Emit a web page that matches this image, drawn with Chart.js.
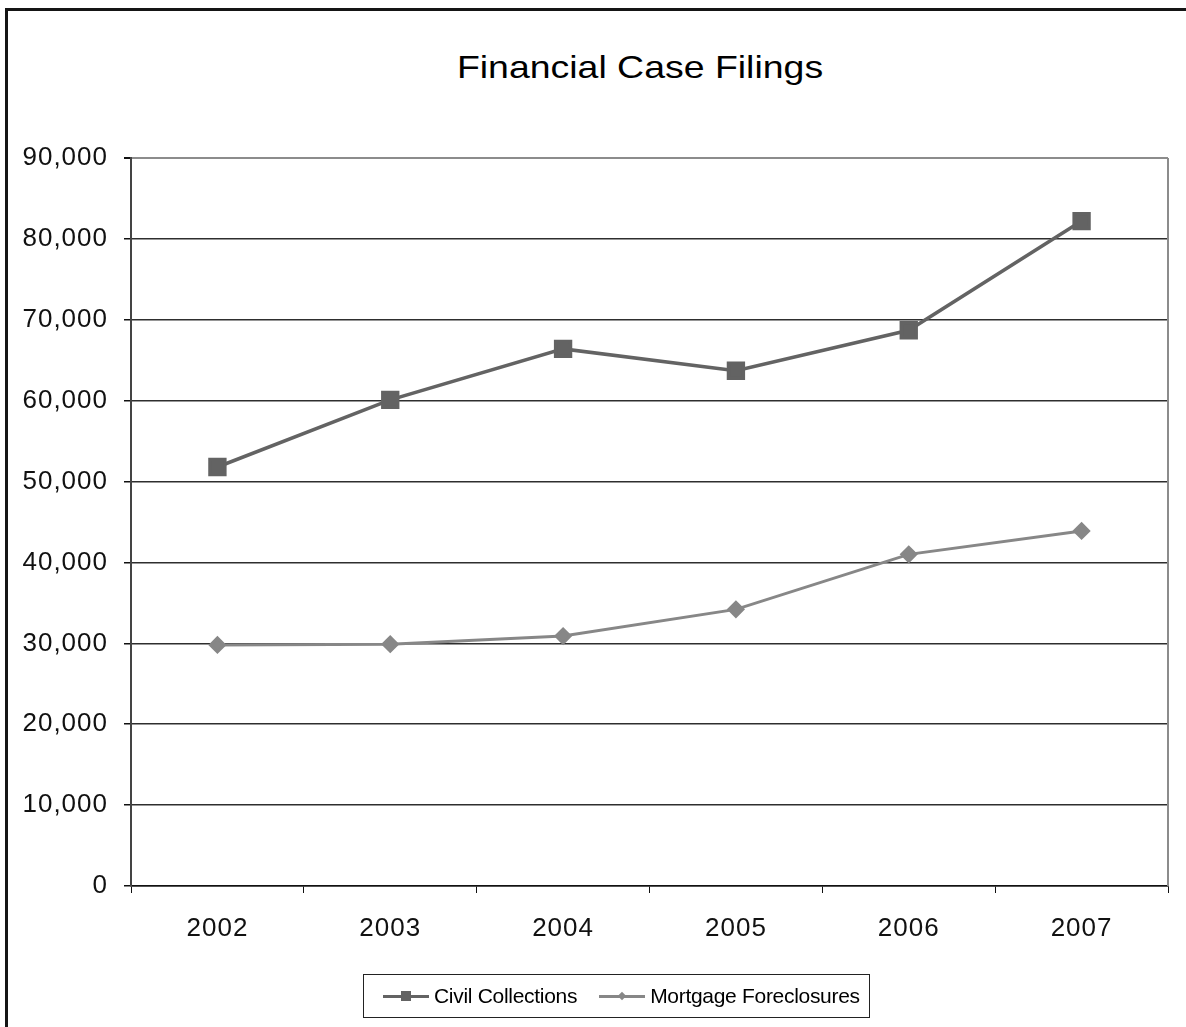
<!DOCTYPE html>
<html>
<head>
<meta charset="utf-8">
<script src="https://cdn.jsdelivr.net/npm/chart.js@4/dist/chart.umd.min.js"></script>
<style>
  html, body { margin: 0; padding: 0; background: #fff; overflow: hidden; }
  body { width: 1186px; height: 1027px; position: relative; font-family: 'Liberation Sans', Arial, sans-serif; }
  #frame { position: absolute; left: 5px; top: 8px; width: 2000px; height: 2000px; border-left: 3px solid #151515; border-top: 3px solid #151515; }
  #chart-wrap { position: absolute; left: 0; top: 0; width: 1186px; height: 1027px; }
  #title { position: absolute; left: 0; top: 51px; width: 1280px; text-align: center; font-size: 32px; line-height: 32px; color: #000; transform: scaleX(1.17); transform-origin: 640px 0; }
  #legend { position: absolute; left: 363px; top: 974px; width: 507px; height: 44px; border: 1px solid #222; display: flex; align-items: center; padding-left: 19px; box-sizing: border-box; font-size: 21px; letter-spacing: -0.3px; color: #000; white-space: nowrap; }
  .item { display: flex; align-items: center; margin-right: 22px; white-space: nowrap; flex: none; }
  .swatch { position: relative; width: 46px; height: 3px; margin-right: 5px; flex: none; }
  .mark { position: absolute; left: 50%; top: 50%; }
</style>
</head>
<body>
<div id="frame"></div>
<div id="title">Financial Case Filings</div>
<div id="chart-wrap"><canvas id="myChart"></canvas></div>
<div id="legend"></div>
<script>
// data
const years = ['2002', '2003', '2004', '2005', '2006', '2007'];
const civilCollections = [51800, 60100, 66400, 63700, 68700, 82200];
const mortgageForeclosures = [29800, 29900, 30900, 34200, 41000, 43900];
const yMin = 0;
const yMax = 90000;
const yStep = 10000;

const seriesNames = ['Civil Collections', 'Mortgage Foreclosures'];
const seriesColors = ['#636363', '#878787'];

// right border of the plot area + slightly wider glyphs like the original
const plotFrame = {
  id: 'plotFrame',
  beforeDraw(chart) {
    chart.ctx.letterSpacing = '1px';
  },
  beforeDatasetsDraw(chart) {
    const { ctx, chartArea } = chart;
    ctx.save();
    ctx.strokeStyle = '#8c8c8c';
    ctx.lineWidth = 2;
    ctx.beginPath();
    ctx.moveTo(chartArea.right, chartArea.top);
    ctx.lineTo(chartArea.right, chartArea.bottom);
    ctx.stroke();
    ctx.restore();
  },
};

const ctx = document.getElementById('myChart').getContext('2d');
const myChart = new Chart(ctx, {
  type: 'line',
  data: {
    labels: years,
    datasets: [{
      label: seriesNames[0],
      data: civilCollections,
      borderColor: seriesColors[0],
      backgroundColor: seriesColors[0],
      borderWidth: 3.5,
      pointStyle: 'rect',
      pointRadius: 10.5,
      pointHoverRadius: 10.5,
      tension: 0,
    }, {
      label: seriesNames[1],
      data: mortgageForeclosures,
      borderColor: seriesColors[1],
      backgroundColor: seriesColors[1],
      borderWidth: 3,
      pointStyle: 'rectRot',
      pointRadius: 7,
      pointHoverRadius: 7,
      tension: 0,
    }],
  },
  options: {
    responsive: true,
    maintainAspectRatio: false,
    animation: false,
    layout: {
      padding: { left: 0, top: 158, right: 18, bottom: 0 },
    },
    plugins: {
      legend: { display: false },
      title: { display: false },
      tooltip: { enabled: false },
    },
    scales: {
      x: {
        offset: true,
        grid: {
          offset: true,
          drawOnChartArea: false,
          drawTicks: true,
          tickLength: 7,
          tickColor: '#111',
        },
        border: { color: '#111', width: 1.5 },
        ticks: {
          color: '#111',
          padding: 20,
          font: { family: "'Liberation Sans', Arial", size: 26 },
          maxRotation: 0,
        },
        afterFit(scale) { scale.height = 141; },
      },
      y: {
        min: yMin,
        max: yMax,
        grid: {
          color: (c) => (c.tick && c.tick.value === yMax ? '#8c8c8c' : '#2e2e2e'),
          lineWidth: (c) => (c.tick && c.tick.value === yMax ? 2 : 1.5),
          tickLength: 7,
          tickColor: '#111',
        },
        border: { color: '#444', width: 2 },
        ticks: {
          stepSize: yStep,
          color: '#111',
          padding: 16,
          font: { family: "'Liberation Sans', Arial", size: 26 },
        },
        afterFit(scale) { scale.width = 131; },
      },
    },
  },
  plugins: [plotFrame],
});

// legend box below the plot
const legendEl = document.getElementById('legend');
seriesNames.forEach((name, i) => {
  const item = document.createElement('div');
  item.className = 'item';
  const sw = document.createElement('span');
  sw.className = 'swatch';
  sw.style.background = seriesColors[i];
  const mark = document.createElement('span');
  mark.className = 'mark';
  mark.style.background = seriesColors[i];
  if (i === 0) {
    mark.style.width = '10px';
    mark.style.height = '10px';
    mark.style.transform = 'translate(-50%, -50%)';
  } else {
    mark.style.width = '6px';
    mark.style.height = '6px';
    mark.style.transform = 'translate(-50%, -50%) rotate(45deg)';
  }
  sw.appendChild(mark);
  const txt = document.createElement('span');
  txt.textContent = name;
  item.appendChild(sw);
  item.appendChild(txt);
  legendEl.appendChild(item);
});
</script>
</body>
</html>
